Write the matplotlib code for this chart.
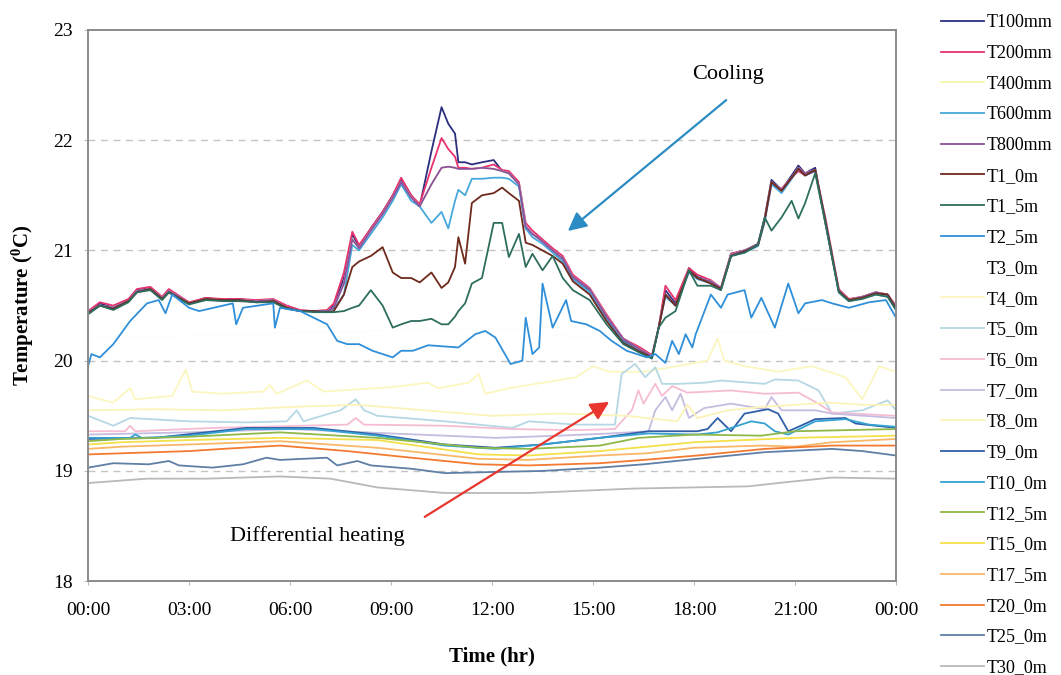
import numpy as np
import matplotlib
matplotlib.use("Agg")
import matplotlib.pyplot as plt

plt.rcParams['font.family'] = ['Liberation Serif', 'DejaVu Serif']
plt.rcParams['mathtext.fontset'] = 'custom'
plt.rcParams['mathtext.rm'] = 'Liberation Serif'
plt.rcParams['mathtext.bf'] = 'Liberation Serif:bold'

# time grid (hours) shared by the upper, strongly varying probes
t_upper = [0, 0.35, 0.75, 1.2, 1.45, 1.85, 2.2, 2.4, 2.7, 3.0,
           3.5, 4.0, 4.5, 5.0, 5.5, 5.9, 6.3, 6.7, 7.1, 7.3,
           7.6, 7.85, 8.05, 8.4, 8.75, 9.05, 9.3, 9.6, 9.85, 10.2,
           10.5, 10.7, 10.9, 11.0, 11.2, 11.4, 11.7, 12.05, 12.3, 12.5,
           12.8, 13.0, 13.2, 13.5, 13.8, 14.1, 14.4, 14.9, 15.4, 15.9,
           16.4, 16.75, 16.95, 17.15, 17.45, 17.85, 18.1, 18.5, 18.8, 19.1,
           19.5, 19.9, 20.1, 20.3, 20.6, 20.9, 21.1, 21.3, 21.6, 21.9,
           22.3, 22.6, 23.0, 23.4, 23.75, 24.0]

T100mm = [20.43, 20.52, 20.48, 20.55, 20.64, 20.66, 20.57, 20.64, 20.58, 20.52,
          20.57, 20.55, 20.56, 20.54, 20.55, 20.48, 20.45, 20.45, 20.45, 20.5,
          20.75, 21.15, 21.03, 21.2, 21.35, 21.5, 21.64, 21.5, 21.4, 21.9,
          22.3, 22.15, 22.06, 21.8, 21.8, 21.78, 21.8, 21.82, 21.72, 21.7,
          21.6, 21.2, 21.15, 21.09, 21.0, 20.92, 20.75, 20.64, 20.39, 20.18,
          20.1, 20.03, 20.3, 20.64, 20.52, 20.84, 20.76, 20.72, 20.66, 20.97,
          21.0, 21.06, 21.3, 21.64, 21.55, 21.68, 21.77, 21.7, 21.75, 21.25,
          20.64, 20.55, 20.58, 20.62, 20.6, 20.48]
T200mm = [20.45, 20.53, 20.5, 20.56, 20.65, 20.67, 20.58, 20.65, 20.59, 20.53,
          20.57, 20.56, 20.56, 20.55, 20.56, 20.5, 20.46, 20.45, 20.46, 20.52,
          20.8, 21.17, 21.05, 21.2, 21.35, 21.5, 21.66, 21.5, 21.42, 21.75,
          22.02, 21.92, 21.85, 21.75, 21.75, 21.74, 21.75, 21.78, 21.73, 21.72,
          21.62, 21.25, 21.18, 21.1, 21.02, 20.95, 20.78, 20.66, 20.42, 20.2,
          20.12, 20.05, 20.3, 20.68, 20.55, 20.84, 20.78, 20.73, 20.66, 20.97,
          21.0, 21.05, 21.28, 21.6, 21.56, 21.66, 21.72, 21.68, 21.72, 21.3,
          20.65, 20.56, 20.58, 20.62, 20.6, 20.5]
T800mm = [20.44, 20.5, 20.48, 20.54, 20.63, 20.65, 20.57, 20.63, 20.58, 20.52,
          20.56, 20.55, 20.55, 20.54, 20.55, 20.48, 20.45, 20.45, 20.45, 20.48,
          20.7, 21.1, 21.02, 21.18, 21.33, 21.48, 21.62, 21.48, 21.4, 21.6,
          21.75, 21.76, 21.75, 21.74, 21.74, 21.74, 21.75, 21.74, 21.72, 21.7,
          21.6, 21.22, 21.15, 21.08, 21.0, 20.93, 20.76, 20.65, 20.4, 20.2,
          20.1, 20.04, 20.3, 20.6, 20.5, 20.82, 20.75, 20.72, 20.66, 20.96,
          21.0, 21.05, 21.28, 21.62, 21.55, 21.66, 21.75, 21.7, 21.73, 21.28,
          20.64, 20.55, 20.58, 20.62, 20.6, 20.49]
T600mm = [20.44, 20.5, 20.48, 20.54, 20.63, 20.65, 20.56, 20.62, 20.57, 20.52,
          20.55, 20.55, 20.55, 20.53, 20.54, 20.48, 20.45, 20.45, 20.45, 20.47,
          20.6, 21.05, 21.0, 21.15, 21.3, 21.45, 21.6, 21.45, 21.4, 21.25,
          21.35, 21.2, 21.45, 21.55, 21.5, 21.65, 21.65, 21.66, 21.66, 21.65,
          21.58, 21.2, 21.12, 21.06, 20.98, 20.9, 20.74, 20.62, 20.38, 20.17,
          20.08, 20.02, 20.3, 20.58, 20.5, 20.8, 20.74, 20.7, 20.64, 20.95,
          20.98, 21.04, 21.26, 21.6, 21.52, 21.65, 21.74, 21.68, 21.72, 21.26,
          20.62, 20.54, 20.57, 20.6, 20.58, 20.46]
T1_0m = [20.43, 20.5, 20.47, 20.54, 20.62, 20.65, 20.56, 20.62, 20.57, 20.52,
         20.56, 20.55, 20.55, 20.53, 20.54, 20.48, 20.45, 20.45, 20.44, 20.45,
         20.6, 20.85, 20.9, 20.95, 21.03, 20.8, 20.75, 20.75, 20.71, 20.8,
         20.66, 20.71, 20.85, 21.12, 20.88, 21.43, 21.5, 21.52, 21.57, 21.52,
         21.45, 21.07, 21.05, 21.0, 20.95, 20.88, 20.72, 20.6, 20.36, 20.16,
         20.08, 20.03, 20.3, 20.6, 20.5, 20.82, 20.75, 20.7, 20.65, 20.95,
         20.99, 21.05, 21.28, 21.62, 21.54, 21.66, 21.74, 21.68, 21.73, 21.27,
         20.63, 20.55, 20.57, 20.61, 20.6, 20.47]
T1_5m = [20.42, 20.5, 20.46, 20.53, 20.62, 20.64, 20.55, 20.62, 20.56, 20.51,
         20.55, 20.54, 20.54, 20.53, 20.53, 20.47, 20.45, 20.44, 20.44, 20.44,
         20.45, 20.48, 20.5, 20.64, 20.5, 20.3, 20.33, 20.36, 20.36, 20.38,
         20.33, 20.33, 20.4, 20.45, 20.52, 20.7, 20.75, 21.25, 21.25, 20.94,
         21.15, 20.85, 20.97, 20.82, 20.95, 20.75, 20.64, 20.55, 20.33, 20.15,
         20.07, 20.02, 20.3, 20.39, 20.45, 20.82, 20.68, 20.68, 20.64, 20.95,
         20.98, 21.05, 21.3, 21.18, 21.3, 21.45, 21.29, 21.43, 21.7, 21.25,
         20.62, 20.54, 20.56, 20.6, 20.58, 20.46]

t_T2_5m = [0, 0.1, 0.35, 0.75, 1.25, 1.75, 2.1, 2.3, 2.5, 3.0,
           3.3, 4.3, 4.4, 4.6, 5.5, 5.55, 5.7, 6.3, 7.1, 7.4,
           7.7, 8.05, 8.45, 9.05, 9.3, 9.65, 10.1, 11.0, 11.5, 11.8,
           12.1, 12.55, 12.9, 13.0, 13.2, 13.4, 13.5, 13.8, 14.2, 14.35,
           14.8, 15.2, 15.55, 16.0, 16.6, 16.85, 17.15, 17.35, 17.55, 17.75,
           17.95, 18.05, 18.5, 18.8, 19.0, 19.5, 19.7, 20.0, 20.4, 20.8,
           21.1, 21.3, 21.8, 22.1, 22.6, 23.2, 23.7, 24.0]
T2_5m = [19.95, 20.06, 20.03, 20.15, 20.36, 20.52, 20.55, 20.43, 20.6, 20.48,
         20.45, 20.52, 20.33, 20.48, 20.52, 20.3, 20.48, 20.45, 20.33, 20.18,
         20.15, 20.15, 20.09, 20.03, 20.09, 20.09, 20.14, 20.12, 20.24, 20.27,
         20.21, 19.97, 20.0, 20.39, 20.06, 20.12, 20.7, 20.3, 20.55, 20.36,
         20.33, 20.27, 20.18, 20.09, 20.03, 20.06, 19.98, 20.18, 20.06, 20.24,
         20.12, 20.24, 20.6, 20.48, 20.6, 20.64, 20.39, 20.57, 20.3, 20.7,
         20.43, 20.52, 20.55, 20.52, 20.48, 20.53, 20.55, 20.39]

t_T3_0m = [0, 6, 12, 15, 18, 24]
T3_0m = [20.2, 20.25, 20.3, 20.2, 20.25, 20.3]

t_T4_0m = [0, 0.75, 1.25, 1.4, 2.5, 2.9, 3.1, 4.0, 5.2, 5.4,
           5.6, 6.5, 7.0, 8.0, 9.0, 10.1, 10.4, 11.3, 11.6, 11.8,
           12.5, 13.5, 14.5, 15.0, 15.5, 16.5, 17.5, 18.4, 18.7, 18.9,
           19.5, 20.5, 21.5, 22.5, 23.0, 23.5, 24]
T4_0m = [19.68, 19.62, 19.75, 19.65, 19.68, 19.92, 19.72, 19.7, 19.72, 19.78,
         19.7, 19.82, 19.72, 19.74, 19.76, 19.8, 19.75, 19.8, 19.88, 19.7,
         19.75, 19.8, 19.85, 19.95, 19.9, 19.9, 19.95, 20.0, 20.2, 20.0,
         19.95, 19.9, 19.95, 19.85, 19.65, 19.95, 19.9]

t_T5_0m = [0, 0.75, 1.25, 3.0, 4.7, 5.9, 6.2, 6.4, 7.5, 7.95,
           8.2, 8.6, 10.6, 12.6, 13.1, 14.5, 15.65, 15.85, 16.25, 16.55,
           16.85, 17.05, 17.55, 18.3, 18.8, 20.1, 20.4, 21.1, 21.7, 22.1,
           23.0, 23.75, 24]
T5_0m = [19.5, 19.41, 19.48, 19.45, 19.44, 19.45, 19.55, 19.45, 19.55, 19.65,
         19.55, 19.5, 19.45, 19.39, 19.45, 19.42, 19.42, 19.88, 19.97, 19.85,
         19.94, 19.79, 19.79, 19.8, 19.82, 19.79, 19.83, 19.82, 19.73, 19.52,
         19.55, 19.64, 19.55]

t_T6_0m = [0, 1.1, 1.25, 1.4, 3.7, 7.7, 7.95, 8.2, 10.6, 12.6,
           14.5, 15.65, 16.15, 16.35, 16.5, 16.85, 17.05, 17.35, 17.8, 19.1,
           20.1, 21.1, 21.7, 22.1, 24]
T6_0m = [19.36, 19.36, 19.41, 19.36, 19.39, 19.42, 19.48, 19.42, 19.41, 19.38,
         19.37, 19.38, 19.55, 19.73, 19.61, 19.79, 19.68, 19.77, 19.71, 19.73,
         19.7, 19.71, 19.61, 19.53, 19.5]

t_T7_0m = [0, 3, 6, 9, 10.6, 12.1, 14, 15.5, 16.65, 16.85,
           17.15, 17.35, 17.6, 17.85, 18.3, 19.1, 20.1, 20.3, 20.6, 21.6,
           22.1, 24]
T7_0m = [19.33, 19.35, 19.38, 19.34, 19.32, 19.3, 19.32, 19.34, 19.36, 19.55,
         19.67, 19.55, 19.7, 19.48, 19.57, 19.61, 19.56, 19.67, 19.55, 19.55,
         19.52, 19.48]

t_T8_0m = [0, 2, 4, 6, 8, 10, 12, 14, 16, 17.5, 17.8, 18.1, 19, 20, 22, 23, 24]
T8_0m = [19.55, 19.56, 19.55, 19.58, 19.6, 19.55, 19.5, 19.52, 19.5, 19.45,
         19.6, 19.48, 19.55, 19.58, 19.62, 19.6, 19.6]

t_T9_0m = [0, 2, 4.7, 6.7, 8.6, 10.6, 12.1, 13.5, 15.2, 16.65,
           18.1, 18.4, 18.7, 19.1, 19.5, 20.2, 20.5, 20.8, 21.1, 21.6,
           22.5, 22.8, 24]
T9_0m = [19.29, 19.3, 19.39, 19.39, 19.33, 19.24, 19.21, 19.24, 19.3, 19.36,
         19.36, 19.38, 19.48, 19.36, 19.52, 19.56, 19.52, 19.36, 19.4, 19.47,
         19.48, 19.43, 19.39]

t_T10_0m = [0, 1.25, 1.4, 1.6, 3, 4.7, 6.7, 8.6, 10.6, 12.1,
            13.5, 15.2, 16.65, 18.1, 18.7, 19.1, 19.7, 20.1, 20.4, 20.8,
            21.6, 22.5, 23.2, 24]
T10_0m = [19.3, 19.3, 19.33, 19.3, 19.32, 19.38, 19.38, 19.32, 19.23, 19.2,
          19.24, 19.3, 19.34, 19.33, 19.35, 19.39, 19.45, 19.43, 19.36, 19.33,
          19.45, 19.47, 19.42, 19.4]

t_T12_5m = [0, 1, 3, 5.7, 8.6, 11.6, 13.1, 15.2, 16.35, 18.0, 20.0, 21.0, 24]
T12_5m = [19.27, 19.29, 19.31, 19.35, 19.3, 19.21, 19.2, 19.23, 19.3, 19.33, 19.32, 19.36, 19.38]

t_T15_0m = [0, 1, 3, 5.7, 8.6, 11.6, 13.1, 15.2, 18.0, 21.0, 24]
T15_0m = [19.24, 19.26, 19.28, 19.3, 19.28, 19.15, 19.14, 19.18, 19.26, 19.3, 19.32]

t_T17_5m = [0, 1, 3, 5.7, 8.6, 11.6, 13.1, 15.2, 16.6, 18.0, 20.0, 21.0, 22.1, 24]
T17_5m = [19.2, 19.22, 19.24, 19.27, 19.21, 19.11, 19.1, 19.14, 19.16, 19.21, 19.23, 19.22, 19.26, 19.29]

t_T20_0m = [0, 1, 2, 3, 4, 5.7, 7.7, 9.6, 11.6, 13.1, 15.2, 16.5, 18.1, 20.1, 22.1, 24]
T20_0m = [19.15, 19.16, 19.17, 19.18, 19.2, 19.23, 19.18, 19.12, 19.06, 19.05, 19.07, 19.1, 19.14, 19.2, 19.23, 19.23]

t_T25_0m = [0, 0.75, 1.8, 2.4, 2.7, 3.7, 4.6, 5.3, 5.7, 7.1,
            7.4, 8.0, 8.4, 9.6, 10.6, 12.0, 13.5, 15.2, 16.5, 18.1,
            20.1, 22.1, 23.0, 24]
T25_0m = [19.03, 19.07, 19.06, 19.09, 19.05, 19.03, 19.06, 19.12, 19.1, 19.12,
          19.05, 19.09, 19.05, 19.02, 18.98, 18.99, 19.0, 19.03, 19.06, 19.11,
          19.17, 19.2, 19.18, 19.14]

t_T30_0m = [0, 1.75, 3.5, 5.7, 7.2, 8.6, 10.6, 13.1, 16.2, 19.6, 20.8, 22.1, 24]
T30_0m = [18.89, 18.93, 18.93, 18.95, 18.93, 18.85, 18.8, 18.8, 18.84, 18.86, 18.9, 18.94, 18.93]

# legend order, colours and data per probe
series = [
    ("T100mm", t_upper, T100mm, '#2b2f7e'),
    ("T200mm", t_upper, T200mm, '#e8336e'),
    ("T400mm", t_upper, T800mm, '#f6f6a8'),
    ("T600mm", t_upper, T600mm, '#47a8dc'),
    ("T800mm", t_upper, T800mm, '#8b4f9e'),
    ("T1_0m", t_upper, T1_0m, '#6e2a1c'),
    ("T1_5m", t_upper, T1_5m, '#2e6e5e'),
    ("T2_5m", t_T2_5m, T2_5m, '#2f8fd9'),
    ("T3_0m", t_T3_0m, T3_0m, '#fdfdfd'),
    ("T4_0m", t_T4_0m, T4_0m, '#fcf6c0'),
    ("T5_0m", t_T5_0m, T5_0m, '#b5d8e4'),
    ("T6_0m", t_T6_0m, T6_0m, '#f5bcd3'),
    ("T7_0m", t_T7_0m, T7_0m, '#c6bcdf'),
    ("T8_0m", t_T8_0m, T8_0m, '#fbf3b8'),
    ("T9_0m", t_T9_0m, T9_0m, '#2f5fa8'),
    ("T10_0m", t_T10_0m, T10_0m, '#35a2d2'),
    ("T12_5m", t_T12_5m, T12_5m, '#8fb848'),
    ("T15_0m", t_T15_0m, T15_0m, '#f3e04a'),
    ("T17_5m", t_T17_5m, T17_5m, '#f8b868'),
    ("T20_0m", t_T20_0m, T20_0m, '#f37a30'),
    ("T25_0m", t_T25_0m, T25_0m, '#5f7fa5'),
    ("T30_0m", t_T30_0m, T30_0m, '#b9b9b9'),
]

hour_ticks = [0, 3, 6, 9, 12, 15, 18, 21, 24]
hour_labels = ['00:00', '03:00', '06:00', '09:00', '12:00', '15:00', '18:00', '21:00', '00:00']

fig = plt.figure(figsize=(10.61, 6.75), dpi=100)
ax = fig.add_axes([0.083, 0.139, 0.7615, 0.8166])

for name, t, v, c in series:
    # the near-white probe sits underneath everything else
    z = 1 if name == "T3_0m" else 2
    ax.plot(t, v, color=c, lw=1.3, label=name, zorder=z)

ax.set_xlim(0, 24)
ax.set_ylim(18, 23)
ax.set_xticks(hour_ticks)
ax.set_xticklabels(hour_labels)
ax.set_yticks([18, 19, 20, 21, 22, 23])
for yv in [19, 20, 21, 22]:
    ax.axhline(yv, color='#c4c4c4', lw=1.0, ls=(0, (5, 4)), zorder=0)
for sp in ax.spines.values():
    sp.set_color('#8a8a8a')
    sp.set_linewidth(1.4)
ax.tick_params(axis='both', labelsize=14, length=3, color='#bbbbbb')
ax.tick_params(axis='x', pad=12)
ax.tick_params(axis='y', pad=8)

ax.set_xlabel('Time (hr)', fontsize=15, fontweight='bold', labelpad=20)
ax.set_ylabel(r'Temperature ($\mathbf{^0}$C)', fontsize=15, fontweight='bold', labelpad=12)

ax.annotate('', xy=(14.19, 21.16), xytext=(19.02, 22.38),
            arrowprops=dict(arrowstyle='-|>', color='#2b8cc4', lw=1.6, mutation_scale=28))
ax.text(19.0, 22.6, 'Cooling', fontsize=16, ha='center', va='center')
ax.annotate('', xy=(15.55, 19.64), xytext=(9.93, 18.57),
            arrowprops=dict(arrowstyle='-|>', color='#e8362e', lw=1.6, mutation_scale=28))
ax.text(6.8, 18.41, 'Differential heating', fontsize=16, ha='center', va='center')

fig.legend(loc='upper left', bbox_to_anchor=(0.887, 0.979), frameon=False,
           fontsize=13, handlelength=2.4, handletextpad=0.15, labelspacing=0.76,
           borderpad=0, borderaxespad=0)

fig.savefig('out.png', dpi=100)
